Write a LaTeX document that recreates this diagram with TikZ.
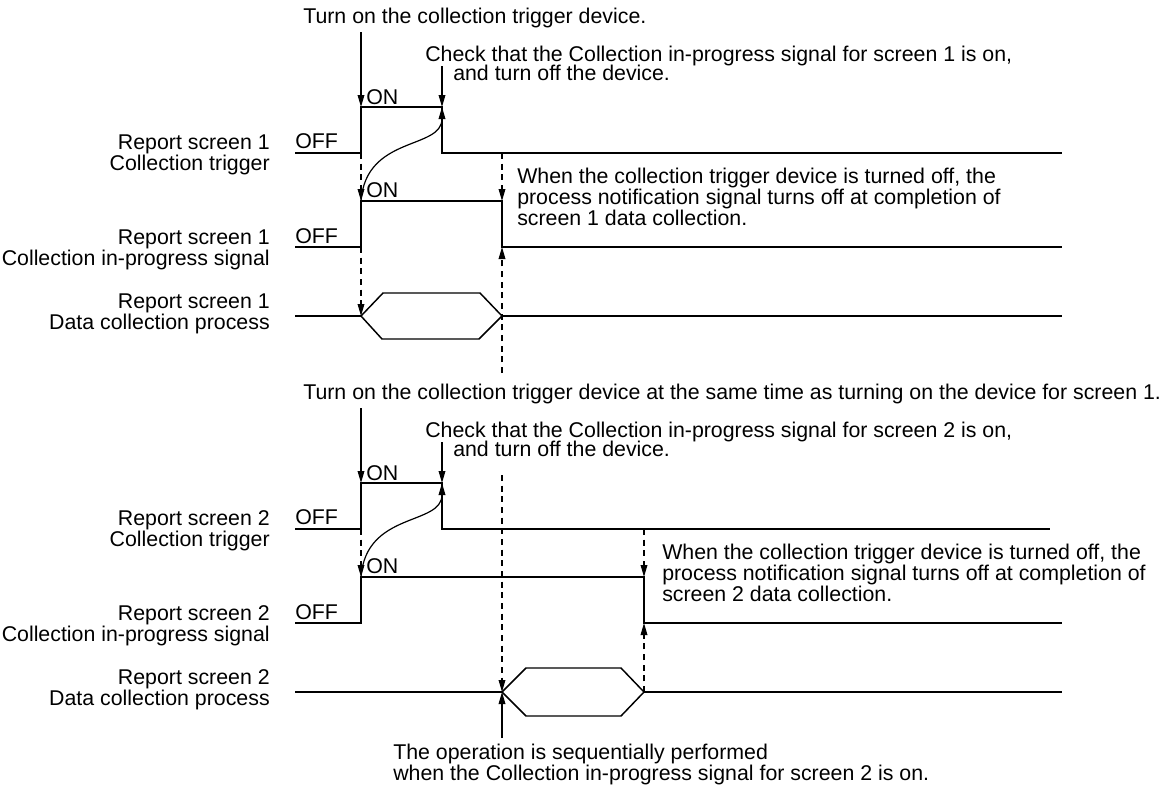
\documentclass[tikz,border=0pt]{standalone}
\usepackage{fontspec}
\setmainfont{Liberation Sans}
\usetikzlibrary{arrows.meta}
\begin{document}
\begin{tikzpicture}[x=0.75pt,y=-0.75pt,
  sig/.style={line width=1.1pt, line join=miter},
  arr/.style={line width=0.9pt,-{Triangle[length=9pt,width=5pt]}},
  darr/.style={arr, dash pattern=on 4.5pt off 3.5pt},
  txt/.style={inner sep=0pt, anchor=west, font=\fontsize{16}{15.75}\selectfont, align=left},
  lbl/.style={inner sep=0pt, anchor=east, font=\fontsize{16}{15.75}\selectfont, align=right},
]
\useasboundingbox (0,0) rectangle (1171,789);

% ================= Section 1 =================
\node[txt] (t1) at (303,18) {Turn on the collection trigger device.};
\node[txt] (c1a) at (425,56) {Check that the Collection in-progress signal for screen 1 is on,};
\node[txt] (c1b) at (453,73) {and turn off the device.};
\node[lbl] (l1a) at (270,155) {Report screen 1\\Collection trigger};
\node[lbl] (l1b) at (270,250) {Report screen 1\\Collection in-progress signal};
\node[lbl] (l1c) at (270,314) {Report screen 1\\Data collection process};
\node[txt] (on1a) at (366,97) {ON};
\node[txt] (on1b) at (366,190) {ON};
\node[txt] (off1a) at (295,141) {OFF};
\node[txt] (off1b) at (295,236) {OFF};
\node[txt] (w1) at (517,197) {When the collection trigger device is turned off, the\\process notification signal turns off at completion of\\screen 1 data collection.};

\coordinate (a1s) at (361,32);
\coordinate (c1s) at (442,66);
\coordinate (tr1a) at (295,153);
\coordinate (tr1b) at (361,153);
\coordinate (tr1c) at (361,107);
\coordinate (tr1d) at (442,107);
\coordinate (tr1e) at (442,153);
\coordinate (tr1f) at (1062,153);
\coordinate (ip1a) at (295,247);
\coordinate (ip1b) at (361,247);
\coordinate (ip1c) at (361,201);
\coordinate (ip1d) at (502,201);
\coordinate (ip1e) at (502,247);
\coordinate (ip1f) at (1062,247);
\coordinate (d2s) at (502,153);
\coordinate (d4s) at (502,373);
\coordinate (dp1a) at (295,316);
\coordinate (dp1L) at (361,316);
\coordinate (dp1R) at (502,316);
\coordinate (dp1e) at (1062,316);

\draw[sig] (tr1a) -- (tr1b) -- (tr1c) -- (tr1d) -- (tr1e) -- (tr1f);
\draw[sig] (ip1a) -- (ip1b) -- (ip1c) -- (ip1d) -- (ip1e) -- (ip1f);
\draw[sig] (dp1a) -- (dp1L);
\draw[sig] (dp1L) -- ++(22,-23) -- ++(97,0) -- (dp1R) -- ++(-23,23) -- ++(-97,0) -- cycle;
\draw[sig] (dp1R) -- (dp1e);

\draw[arr] (a1s) -- (tr1c);
\draw[arr] (c1s) -- (tr1d);
\draw[arr] (ip1c) .. controls (366,135) and (442,150) .. (tr1d);
\draw[darr] (tr1b) -- (ip1c);
\draw[darr] (d2s) -- (ip1d);
\draw[darr] (ip1b) -- (dp1L);
\draw[darr] (d4s) -- (ip1e);

% ================= Section 2 =================
\node[txt] (t2) at (303,394) {Turn on the collection trigger device at the same time as turning on the device for screen 1.};
\node[txt] (c2a) at (425,432) {Check that the Collection in-progress signal for screen 2 is on,};
\node[txt] (c2b) at (453,449) {and turn off the device.};
\node[lbl] (l2a) at (270,531) {Report screen 2\\Collection trigger};
\node[lbl] (l2b) at (270,626) {Report screen 2\\Collection in-progress signal};
\node[lbl] (l2c) at (270,690) {Report screen 2\\Data collection process};
\node[txt] (on2a) at (366,473) {ON};
\node[txt] (on2b) at (366,566) {ON};
\node[txt] (off2a) at (295,517) {OFF};
\node[txt] (off2b) at (295,612) {OFF};
\node[txt] (w2) at (662,573) {When the collection trigger device is turned off, the\\process notification signal turns off at completion of\\screen 2 data collection.};
\node[txt] (b2) at (393,764) {The operation is sequentially performed\\when the Collection in-progress signal for screen 2 is on.};

\coordinate (a2s) at (361,408);
\coordinate (c2s) at (442,442);
\coordinate (tr2a) at (295,529);
\coordinate (tr2b) at (361,529);
\coordinate (tr2c) at (361,483);
\coordinate (tr2d) at (442,483);
\coordinate (tr2e) at (442,529);
\coordinate (tr2f) at (1050,529);
\coordinate (ip2a) at (295,623);
\coordinate (ip2b) at (361,623);
\coordinate (ip2c) at (361,577);
\coordinate (ip2d) at (644,577);
\coordinate (ip2e) at (644,623);
\coordinate (ip2f) at (1062,623);
\coordinate (d2s2) at (644,529);
\coordinate (d4s2) at (644,692);
\coordinate (ls) at (502,475);
\coordinate (bs) at (502,738);
\coordinate (dp2a) at (295,692);
\coordinate (dp2L) at (502,692);
\coordinate (dp2R) at (644,692);
\coordinate (dp2e) at (1062,692);

\draw[sig] (tr2a) -- (tr2b) -- (tr2c) -- (tr2d) -- (tr2e) -- (tr2f);
\draw[sig] (ip2a) -- (ip2b) -- (ip2c) -- (ip2d) -- (ip2e) -- (ip2f);
\draw[sig] (dp2a) -- (dp2L);
\draw[sig] (dp2L) -- ++(24,-24) -- ++(95,0) -- (dp2R) -- ++(-23,24) -- ++(-95,0) -- cycle;
\draw[sig] (dp2R) -- (dp2e);

\draw[arr] (a2s) -- (tr2c);
\draw[arr] (c2s) -- (tr2d);
\draw[arr] (ip2c) .. controls (366,511) and (442,526) .. (tr2d);
\draw[darr] (tr2b) -- (ip2c);
\draw[darr] (d2s2) -- (ip2d);
\draw[darr] (ls) -- (dp2L);
\draw[darr] (d4s2) -- (ip2e);
\draw[arr] (bs) -- (dp2L);
\end{tikzpicture}
\end{document}
